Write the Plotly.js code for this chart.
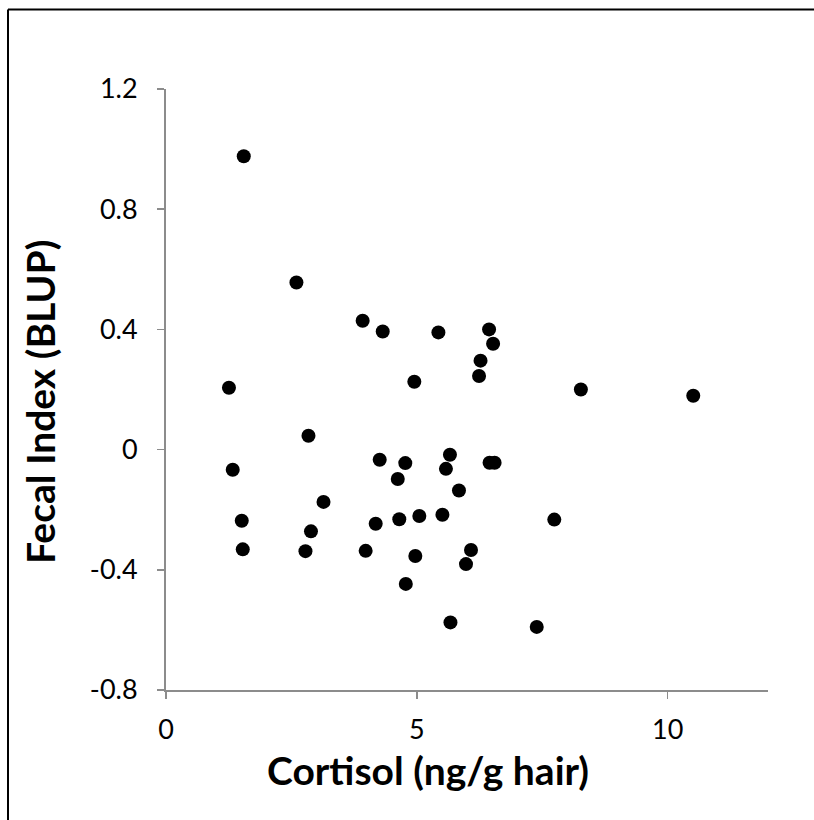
<!DOCTYPE html>
<html>
<head>
<meta charset="utf-8">
<script src="https://cdn.plot.ly/plotly-3.0.1.min.js"></script>
<style>html,body{margin:0;padding:0;background:#fff}#chart{width:814px;height:820px}</style>
</head>
<body>
<div id="chart"></div>
<script>
const cortisol = [1.55, 2.60, 3.92, 4.32, 5.43, 6.44, 6.52, 6.27, 6.24, 4.95,
  1.255, 8.27, 10.51, 2.84, 1.33, 4.26, 4.77, 4.62, 5.66, 5.58,
  5.84, 6.45, 6.55, 3.14, 1.51, 2.89, 4.18, 4.65, 5.05, 5.51,
  7.74, 1.53, 2.78, 3.98, 4.97, 6.08, 5.98, 4.78, 5.67, 7.39];
const fecalIndex = [0.976, 0.556, 0.429, 0.393, 0.390, 0.400, 0.352, 0.296, 0.245, 0.226,
  0.206, 0.200, 0.179, 0.046, -0.067, -0.034, -0.045, -0.098, -0.017, -0.064,
  -0.136, -0.044, -0.044, -0.174, -0.237, -0.272, -0.247, -0.232, -0.221, -0.217,
  -0.233, -0.332, -0.338, -0.337, -0.354, -0.334, -0.381, -0.447, -0.575, -0.590];
const xTicks = [0, 5, 10];
const yTicks = [-0.8, -0.4, 0, 0.4, 0.8, 1.2];
const yTickText = ["-0.8", "-0.4", "0", "0.4", "0.8", "1.2"];
const xTitle = "Cortisol (ng/g hair)";
const yTitle = "Fecal Index (BLUP)";

const W = 814, H = 820;
const m = {l: 166, r: 46, t: 89, b: 130};
const pw = W - m.l - m.r, ph = H - m.t - m.b;
const px = v => (v - m.l) / pw;
const py = v => (H - m.b - v) / ph;
const FONT = 'Lato, "Open Sans", sans-serif';

const trace = {
  x: cortisol, y: fecalIndex, type: 'scatter', mode: 'markers',
  marker: {color: '#000', size: 14, line: {width: 0}},
  hoverinfo: 'skip', showlegend: false
};
const axisCommon = {
  showgrid: false, zeroline: false, showline: true, linecolor: '#8c8c8c', linewidth: 2,
  ticks: 'outside', ticklen: 7, tickwidth: 1.5, tickcolor: '#8c8c8c',
  tickfont: {family: FONT, size: 27, color: '#000'},
  fixedrange: true
};
const layout = {
  width: W, height: H, margin: m,
  paper_bgcolor: '#fff', plot_bgcolor: '#fff',
  xaxis: Object.assign({}, axisCommon, {range: [0, 12], tickvals: xTicks, ticktext: xTicks.map(String), ticklabelstandoff: 8}),
  yaxis: Object.assign({}, axisCommon, {range: [-0.8, 1.2], tickvals: yTicks, ticktext: yTickText, ticklabelstandoff: 14}),
  annotations: [
    {text: '<b>' + xTitle + '</b>', xref: 'paper', yref: 'paper', x: px(428), y: py(770),
     xanchor: 'center', yanchor: 'middle', showarrow: false,
     font: {family: FONT, size: 39, color: '#000'}},
    {text: '<b>' + yTitle + '</b>', xref: 'paper', yref: 'paper', x: px(40), y: py(402),
     xanchor: 'center', yanchor: 'middle', showarrow: false, textangle: -90,
     font: {family: FONT, size: 39, color: '#000'}}
  ],
  shapes: [
    {type: 'line', xref: 'paper', yref: 'paper', x0: px(8), x1: px(814), y0: py(9.5), y1: py(9.5), line: {color: '#000', width: 2}},
    {type: 'line', xref: 'paper', yref: 'paper', x0: px(8), x1: px(8), y0: py(9.5), y1: py(820), line: {color: '#000', width: 2}}
  ]
};
Plotly.newPlot('chart', [trace], layout, {displayModeBar: false, staticPlot: true});
</script>
</body>
</html>
